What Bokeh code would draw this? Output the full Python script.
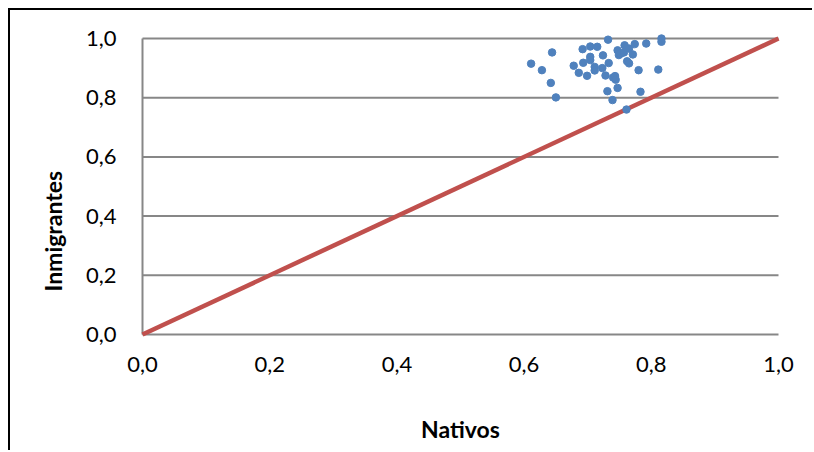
from bokeh.plotting import figure
from bokeh.models import Range1d, CustomJSTickFormatter, Title
from bokeh.embed import file_html
from bokeh.resources import INLINE

# Share of each group (natives vs. immigrants)
nativos = [0.611, 0.628, 0.644, 0.642, 0.650, 0.678, 0.686, 0.692, 0.693, 0.699,
           0.704, 0.704, 0.704, 0.711, 0.711, 0.715, 0.724, 0.723, 0.728, 0.731,
           0.732, 0.733, 0.739, 0.740, 0.743, 0.744, 0.747, 0.747, 0.749, 0.752,
           0.758, 0.757, 0.765, 0.762, 0.765, 0.761, 0.771, 0.774, 0.780, 0.783,
           0.792, 0.811, 0.816, 0.816]
inmigrantes = [0.915, 0.893, 0.953, 0.850, 0.801, 0.908, 0.884, 0.964, 0.918, 0.874,
               0.973, 0.938, 0.927, 0.904, 0.892, 0.972, 0.943, 0.900, 0.875, 0.822,
               0.996, 0.917, 0.792, 0.868, 0.873, 0.861, 0.833, 0.960, 0.944, 0.949,
               0.977, 0.953, 0.966, 0.923, 0.916, 0.760, 0.946, 0.981, 0.893, 0.820,
               0.983, 0.895, 1.000, 0.989]

ticks = [0.0, 0.2, 0.4, 0.6, 0.8, 1.0]
diagonal = [0.0, 1.0]

# pixel size of one unit on each axis, and a small margin so marks at the edges are not cut
UNIT_X, UNIT_Y, EDGE = 636, 296, 10
pad_x, pad_y = EDGE / UNIT_X, EDGE / UNIT_Y

p = figure(width=804, height=442, output_backend="svg", toolbar_location=None,
           x_range=Range1d(-pad_x, 1 + pad_x), y_range=Range1d(-pad_y, 1 + pad_y),
           min_border_left=122, min_border_top=18, min_border_right=26,
           min_border_bottom=108, margin=(8, 0, 0, 8),
           styles={"border-left": "2px solid #000", "border-top": "2px solid #000"})
p.outline_line_color = None
p.xgrid.grid_line_color = None
p.ygrid.grid_line_color = None
p.background_fill_color = "white"
p.border_fill_color = "white"

grid_color = "#878787"
# horizontal gridlines and the vertical axis line, limited to the 0..1 square
p.segment(x0=[0.0] * len(ticks), x1=[1.0] * len(ticks), y0=ticks, y1=ticks,
          line_color=grid_color, line_width=2)
p.segment(x0=[0.0], x1=[0.0], y0=[0.0], y1=[1.0], line_color=grid_color, line_width=2)

p.line(diagonal, diagonal, line_color="#C0504D", line_width=4.5)
p.scatter(nativos, inmigrantes, size=7.5, fill_color="#4F81BD", line_color="#4F81BD")

fmt = CustomJSTickFormatter(code="return tick.toFixed(1).replace('.', ',');")
for ax in (p.xaxis[0], p.yaxis[0]):
    ax.ticker = ticks
    ax.formatter = fmt
    ax.axis_line_color = None
    ax.major_tick_line_color = None
    ax.minor_tick_line_color = None
    ax.major_tick_in = 0
    ax.major_tick_out = 0
    ax.major_label_text_font = "Lato"
    ax.major_label_text_font_size = "22px"
    ax.major_label_text_color = "#000000"

p.yaxis.major_label_standoff = 16
p.xaxis.major_label_standoff = 12

p.xaxis.axis_label = "Nativos"
p.xaxis.axis_label_text_font = "Lato"
p.xaxis.axis_label_text_font_style = "bold"
p.xaxis.axis_label_text_font_size = "23px"
p.xaxis.axis_label_text_color = "#000000"
p.xaxis.axis_label_standoff = 40

# vertical title placed from the bottom of the frame upwards
ytitle = Title(text="Inmigrantes", align="left", offset=53, text_font="Lato",
               text_font_style="bold", text_font_size="23px", text_color="#000000",
               standoff=32)
p.add_layout(ytitle, "left")

open("out.html", "w").write(file_html(p, INLINE))
